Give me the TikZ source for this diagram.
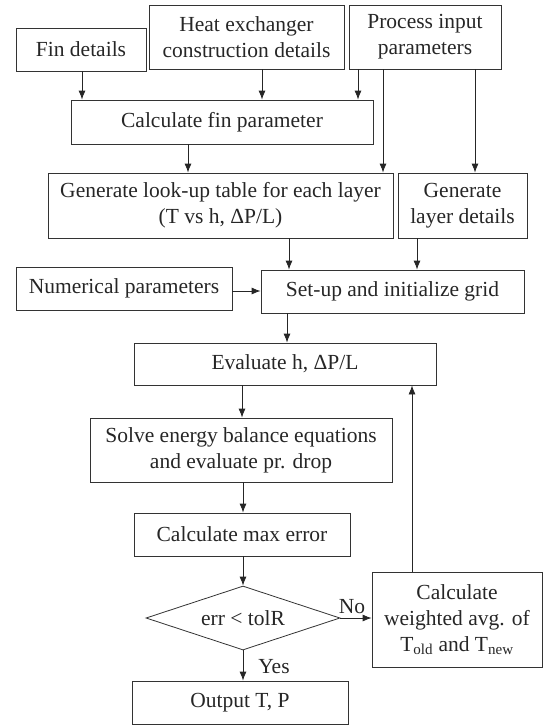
\documentclass[tikz,border=0pt]{standalone}
\usepackage{fontspec}
\setmainfont{Liberation Serif}
\usetikzlibrary{arrows.meta,shapes.geometric}
\begin{document}
\begin{tikzpicture}[x=1pt,y=-1pt,
  every node/.style={font=\fontsize{21.5}{26}\selectfont, text=black!85},
  box/.style={draw=black!80, line width=0.8pt, inner sep=0pt, align=center},
  dia/.style={draw=black!80, line width=0.8pt, diamond, inner sep=0pt, aspect=3},
  arr/.style={draw=black!85, line width=0.8pt, -{Latex[length=9pt,width=7pt]}},
  lab/.style={inner sep=0pt}
]
\useasboundingbox (0,0) rectangle (543,725);
% boxes
\node[box, minimum width=130pt, minimum height=43pt] (fin) at (81,49.5) {Fin details};
\node[box, minimum width=195pt, minimum height=64pt] (heat) at (246.5,37) {Heat exchanger\\construction details};
\node[box, minimum width=152pt, minimum height=64pt] (proc) at (425,37) {Process input\\parameters};
\node[box, minimum width=302pt, minimum height=44pt] (calcfin) at (222,122) {Calculate fin parameter};
\node[box, minimum width=345pt, minimum height=65pt] (lookup) at (220.5,205.5) {Generate look-up table for each layer\\(T vs h, ΔP/L)};
\node[box, minimum width=129pt, minimum height=65pt] (layer) at (462.5,205.5) {Generate\\layer details};
\node[box, minimum width=216pt, minimum height=43pt] (numer) at (124,288.5) {Numerical parameters};
\node[box, minimum width=263pt, minimum height=43pt] (setup) at (392.5,291.5) {Set-up and initialize grid};
\node[box, minimum width=302pt, minimum height=42pt] (eval) at (285,364) {Evaluate h, ΔP/L};
\node[box, minimum width=302pt, minimum height=64pt] (solve) at (241,450) {Solve energy balance equations\\and evaluate pr. drop};
\node[box, minimum width=216pt, minimum height=43pt] (maxerr) at (242,534.5) {Calculate max error};
\node[dia, minimum width=194pt, minimum height=64pt] (dec) at (243,618) {};
\node at (243,618) {err {<} tolR};
\node[box, minimum width=170pt, minimum height=95pt] (wavg) at (457,619.5) {Calculate\\weighted avg. of\\T\textsubscript{old} and T\textsubscript{new}};
\node[box, minimum width=216pt, minimum height=43pt] (out) at (240,702.5) {Output T, P};
% coordinates for arrow positions
\coordinate (a1) at (82,0);
\coordinate (a2) at (262,0);
\coordinate (a3) at (358,0);
\coordinate (a4) at (383,0);
\coordinate (a5) at (475,0);
\coordinate (a6) at (188,0);
\coordinate (a7) at (289,0);
\coordinate (a8) at (417,0);
\coordinate (a9) at (287,0);
\coordinate (a10) at (242,0);
\coordinate (a11) at (243,0);
\coordinate (a12) at (412,0);
\coordinate (ny) at (0,291);
% connectors
\draw[arr] (a1 |- fin.south) -- (a1 |- calcfin.north);
\draw[arr] (a2 |- heat.south) -- (a2 |- calcfin.north);
\draw[arr] (a3 |- proc.south) -- (a3 |- calcfin.north);
\draw[arr] (a4 |- proc.south) -- (a4 |- lookup.north);
\draw[arr] (a5 |- proc.south) -- (a5 |- layer.north);
\draw[arr] (a6 |- calcfin.south) -- (a6 |- lookup.north);
\draw[arr] (a7 |- lookup.south) -- (a7 |- setup.north);
\draw[arr] (a8 |- layer.south) -- (a8 |- setup.north);
\draw[arr] (numer.east |- ny) -- (setup.west |- ny);
\draw[arr] (a9 |- setup.south) -- (a9 |- eval.north);
\draw[arr] (a10 |- eval.south) -- (a10 |- solve.north);
\draw[arr] (a11 |- solve.south) -- (a11 |- maxerr.north);
\draw[arr] (a11 |- maxerr.south) -- (dec.north);
\draw[arr] (dec.south) -- (dec.south |- out.north);
\draw[arr] (dec.east) -- (wavg.west |- dec.east);
\draw[arr] (a12 |- wavg.north) -- (a12 |- eval.south);
% labels
\node[lab] (no) at (352,607) {No};
\node[lab] (yes) at (274,667) {Yes};
\end{tikzpicture}
\end{document}
